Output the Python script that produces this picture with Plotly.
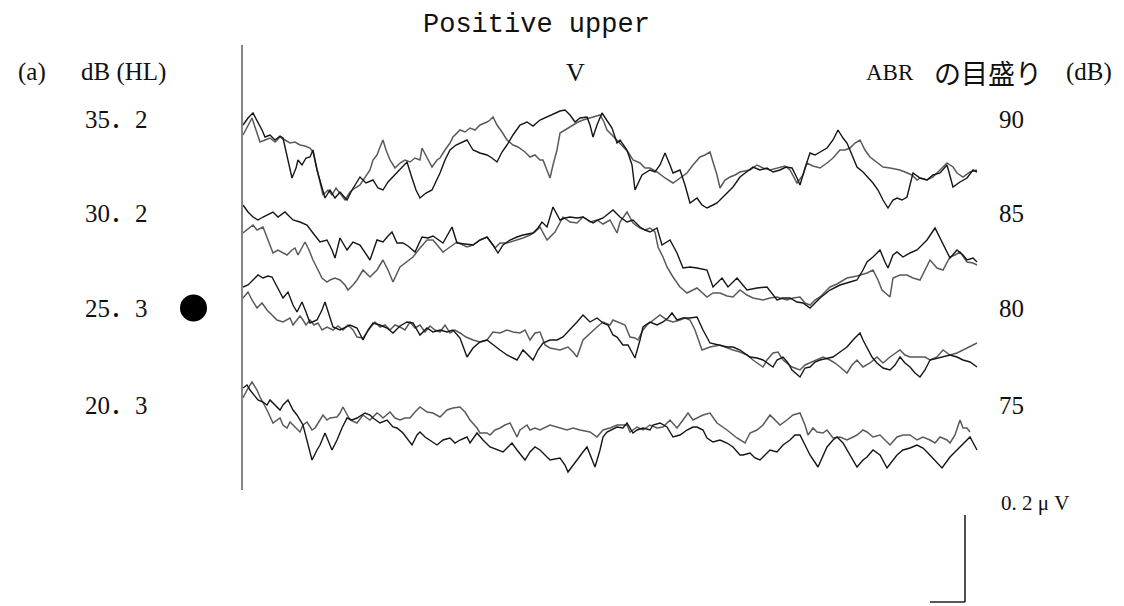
import plotly.graph_objects as go

# ---------------- data ----------------
# stimulus levels (dB HL) and ABR scale (dB)
levels_hl = ["35．2", "30．2", "25．3", "20．3"]
abr_scale = ["90", "85", "80", "75"]
threshold_level = "25．3"

# time in samples, amplitude in arbitrary units (scale bar 0.2 µV = 87 a.u.)
t_352_a = [0,5,10,15,19,22,27,32,37,40,44,49,53,55,59,63,67,70,74,78,82,87,92,97,104,109,117,123,130,135,140,145,150,157,164,169,173,177,183,189,197,202,207,213,219,224,227,230,237,244,249,254,259,264,270,277,284,290,297,304,312,317,322,327,332,337,344,347,350,354,359,364,369,374,377,384,389,392,399,407,412,417,422,427,430,437,442,447,454,459,464,470,474,479,484,490,497,504,510,517,524,530,537,543,549,554,557,562,567,572,577,584,590,595,600,604,609,614,620,625,630,635,640,645,650,654,659,664,670,677,684,690,697,704,710,717,724,730,734]
v_352_a = [25,32,37,28,20,13,15,10,14,12,-5,-28,-18,-10,-15,-8,-7,0,-20,-35,-48,-40,-48,-42,-50,-40,-27,-33,-30,-38,-40,-32,-27,-20,-12,-28,-40,-48,-43,-40,-23,-10,0,5,8,10,5,0,-3,-5,-8,-12,-2,5,15,25,28,24,30,33,37,39,40,35,28,32,33,25,13,25,37,30,22,7,10,0,-15,-40,-25,-20,-22,-15,-3,-15,-23,-20,-35,-53,-48,-55,-58,-55,-53,-48,-43,-37,-27,-22,-17,-20,-18,-22,-20,-17,-18,-28,-35,-18,-3,-5,-2,2,10,20,12,7,-5,-17,-22,-27,-33,-40,-50,-58,-50,-48,-50,-47,-23,-28,-30,-25,-23,-15,-37,-32,-28,-20,-22]
t_352_b = [0,5,9,13,17,22,27,32,37,42,47,52,57,62,67,70,73,77,80,85,89,93,97,102,107,112,117,122,127,130,134,137,140,143,147,152,157,162,167,172,177,179,183,189,194,197,202,207,210,214,217,222,227,232,237,244,247,250,254,259,264,270,275,282,287,292,297,300,304,307,310,314,317,322,325,330,335,340,347,352,357,361,364,369,374,379,385,390,397,402,407,414,422,430,437,444,450,457,462,467,470,474,477,482,487,492,497,507,514,520,527,534,542,547,554,560,564,570,577,584,590,597,602,607,612,617,622,627,634,640,647,657,662,669,674,677,684,690,697,704,710,714,720,727,734]
v_352_b = [15,25,32,20,8,10,12,8,13,10,7,8,5,4,2,-2,-15,-35,-45,-40,-45,-38,-43,-50,-42,-38,-35,-28,-20,-10,-5,3,10,0,-10,-18,-13,-10,-12,-8,-10,2,-5,-17,-10,-8,0,7,13,17,20,18,22,20,25,28,30,33,25,18,10,5,3,-2,-7,-5,-10,-10,-20,-28,-15,0,17,20,22,25,28,30,32,33,35,28,20,15,10,5,-2,-10,-13,-18,-18,-22,-28,-33,-28,-23,-15,-7,-5,-2,-12,-25,-38,-30,-27,-25,-22,-20,-15,-18,-20,-18,-16,-20,-33,-25,-13,-16,-18,-13,-8,0,0,2,7,10,0,-7,-12,-17,-18,-20,-22,-25,-30,-28,-30,-27,-20,-13,-17,-23,-27,-22,-20]

t_302_a = [0,5,10,15,20,24,30,35,39,42,46,50,57,64,70,77,84,89,92,97,104,110,117,122,127,134,140,145,149,154,160,165,172,179,185,190,200,209,214,222,230,237,244,250,255,260,267,274,280,290,295,299,304,310,317,322,327,334,340,345,350,355,360,365,370,377,384,390,397,402,407,414,419,427,434,440,447,454,464,470,479,485,494,504,514,524,534,540,547,554,560,567,572,577,587,597,607,614,620,624,630,637,642,645,650,654,660,667,674,677,684,692,697,700,707,714,720,724,730,734]
v_302_a = [45,38,33,30,33,35,38,33,36,38,34,30,28,25,17,8,10,0,-8,12,0,8,5,-2,-10,10,8,14,18,7,7,4,-2,13,12,14,7,23,7,6,5,10,13,5,-3,5,10,13,15,17,22,28,23,43,30,32,33,32,33,30,27,30,32,36,40,33,28,30,23,20,18,22,5,10,-3,-18,-17,-18,-20,-37,-28,-37,-28,-40,-38,-37,-50,-48,-48,-52,-53,-58,-53,-48,-40,-35,-32,-30,-20,-12,-7,0,-12,-18,-5,-2,-7,-3,0,3,10,22,12,7,-8,0,-5,-10,-8,-12]
t_302_b = [0,7,10,14,20,25,30,35,40,44,49,52,55,59,62,66,70,75,79,84,87,92,97,102,105,110,114,120,127,134,140,145,150,157,164,170,177,184,190,194,200,207,214,224,230,237,244,252,257,264,274,280,287,292,297,304,312,320,327,334,340,347,354,360,367,374,377,384,390,397,402,407,412,415,420,424,430,437,444,450,454,464,470,477,484,490,497,504,510,520,527,534,544,550,557,562,567,572,577,582,587,594,604,614,624,630,635,639,647,650,657,664,670,677,682,687,694,700,707,712,717,724,730,734]
v_302_b = [17,22,25,20,23,10,-3,0,-3,-5,0,2,-5,3,8,0,-10,-20,-28,-32,-30,-28,-30,-35,-40,-35,-30,-20,-27,-20,-10,-20,-32,-17,-12,-7,2,10,10,5,-2,3,8,3,5,10,13,2,7,7,10,12,15,18,23,10,18,33,28,27,33,28,30,26,30,17,28,38,27,22,20,22,18,3,-7,-17,-27,-37,-43,-40,-38,-47,-43,-43,-46,-47,-40,-45,-48,-50,-48,-47,-50,-48,-47,-53,-55,-50,-47,-42,-37,-34,-28,-26,-23,-20,-30,-40,-47,-28,-25,-25,-28,-30,-20,-10,-18,-20,-7,-5,-2,-12,-13,-15]

t_253_a = [0,5,10,15,20,25,29,34,40,45,50,54,59,63,67,74,79,82,86,90,97,107,114,120,125,130,137,144,150,157,164,170,177,184,190,197,204,210,217,224,230,237,244,250,257,264,274,280,285,290,295,300,307,314,320,327,334,340,347,354,360,365,370,374,380,385,392,397,400,407,414,420,425,429,434,440,447,454,460,467,477,484,490,497,507,514,520,524,530,534,540,545,549,557,562,567,572,577,584,590,597,604,610,617,620,624,629,634,640,647,652,657,662,667,672,677,682,687,694,700,707,714,720,727,734]
v_253_a = [43,45,50,55,52,54,53,43,32,38,25,18,28,18,7,10,20,28,15,3,0,5,2,-10,0,7,5,2,-3,4,8,7,-5,2,-2,0,-2,0,-8,-27,-18,-12,-10,-15,-20,-25,-30,-20,-25,-30,-20,-13,-10,-10,-7,0,8,15,8,12,7,5,-5,-7,-15,-15,-28,-10,3,8,5,8,12,17,10,12,12,13,0,-13,-15,-17,-17,-20,-27,-28,-30,-33,-37,-30,-27,-33,-40,-47,-38,-37,-32,-30,-28,-27,-22,-17,-10,-3,-10,-17,-27,-33,-38,-40,-35,-27,-33,-37,-43,-47,-40,-30,-28,-27,-25,-27,-30,-32,-37]
t_253_b = [0,5,9,14,19,24,29,34,40,47,50,54,57,60,63,67,71,75,79,84,90,95,100,105,110,114,120,127,132,137,142,147,152,157,162,167,172,177,182,187,192,197,202,207,212,217,223,230,237,244,250,257,264,270,277,282,287,292,297,302,307,317,325,330,334,340,347,354,360,367,370,377,382,387,392,395,400,404,410,417,424,430,437,442,447,452,459,467,477,484,490,497,504,510,514,520,524,530,535,540,549,557,562,567,574,580,587,592,597,604,609,614,620,627,634,640,647,657,662,667,674,682,687,694,700,707,714,720,727,734]
v_253_b = [32,38,30,22,27,20,15,10,8,12,5,10,14,10,5,10,5,7,0,3,0,4,0,5,0,-7,-8,2,8,3,5,0,5,3,0,8,2,5,-2,4,0,-2,5,-3,0,-3,-7,-10,-12,-10,-2,-3,0,-2,-3,0,-10,-3,-2,-15,-18,-20,-17,-22,-27,-10,-3,3,8,5,10,7,5,-7,-8,-10,0,5,10,15,10,8,10,12,10,0,-20,-17,-15,-18,-20,-22,-25,-30,-33,-37,-30,-23,-22,-30,-37,-40,-35,-33,-30,-27,-30,-33,-37,-43,-35,-30,-37,-33,-27,-33,-27,-20,-25,-27,-27,-27,-30,-27,-20,-25,-23,-20,-17,-13]

t_203_a = [0,4,7,12,15,20,24,27,32,37,40,45,50,54,60,64,69,74,77,82,85,89,94,99,104,109,114,119,122,127,130,137,144,150,154,160,165,169,174,177,182,187,194,200,207,212,217,224,227,234,240,247,254,260,264,269,274,282,287,292,297,302,307,317,322,325,330,334,340,344,348,352,357,360,364,374,380,384,390,394,400,407,410,417,424,430,437,444,450,454,460,464,470,477,484,490,497,500,507,512,517,522,527,534,540,547,552,557,562,567,575,580,584,590,594,600,607,614,620,624,630,637,644,650,654,660,667,674,680,684,690,694,699,707,714,720,724,727,734]
v_203_a = [42,45,40,33,30,28,25,30,25,20,25,30,20,15,5,-10,-30,-20,-15,-3,-10,-20,-10,2,12,10,12,15,17,15,12,7,10,3,2,-3,-10,-15,-5,-2,-7,-10,-15,-10,-8,-13,-10,-7,-13,-3,-10,-17,-20,-22,-18,-13,-20,-30,-22,-17,-20,-25,-30,-28,-35,-42,-35,-30,-22,-17,-28,-37,-20,-7,-2,3,2,7,-3,0,2,0,5,7,3,-7,-5,0,3,3,0,-8,-12,-10,-13,-17,-25,-25,-23,-28,-30,-25,-20,-22,-15,-10,-5,-5,-15,-25,-37,-25,-17,-10,-7,-13,-25,-37,-30,-27,-20,-25,-38,-30,-25,-20,-18,-15,-18,-22,-28,-32,-38,-27,-20,-13,-10,-7,-20]
t_203_b = [0,4,9,14,17,24,30,34,37,40,44,47,50,57,60,64,69,72,77,80,84,87,94,97,100,104,107,114,120,124,127,134,137,140,147,152,157,162,167,172,177,184,190,197,204,210,217,222,227,234,237,244,247,252,257,262,267,274,277,284,287,292,297,307,317,324,330,337,347,354,360,367,374,384,387,394,400,407,414,420,427,434,440,445,450,454,460,467,474,484,494,502,507,514,520,527,532,537,544,550,557,562,565,570,574,580,584,590,597,604,610,614,620,624,630,637,647,654,660,667,674,680,687,692,697,704,707,712,717,720,724,727]
v_203_b = [32,40,48,40,33,20,7,10,12,5,2,8,5,-2,5,8,0,2,10,15,10,12,13,17,23,15,10,7,15,12,10,17,15,12,18,12,10,12,12,18,23,18,17,13,20,22,23,18,10,2,-3,-3,-5,0,2,5,7,-7,0,5,0,2,0,5,2,0,2,0,-2,-7,0,2,5,5,-2,3,0,5,2,3,10,2,10,17,10,12,15,17,7,0,-8,-13,-3,0,5,15,10,5,10,15,17,5,-5,2,-2,-3,0,-8,-7,-10,-7,-5,0,-2,-7,-5,-15,-7,-5,-5,-10,-7,-10,-13,-7,-10,-13,-5,10,2,2,-2]

# ---------------- layout constants (pixels) ----------------
W, H = 1124, 606
X0_PX, X1_PX = 243, 978           # sweep start/end
T_RANGE = [0, 735]                # samples shown
BASE_PX = [150, 250, 330, 430]    # vertical offset of each pair
LABEL_Y = [119, 214, 308, 405]
DARK, GRAY = "#151515", "#5a5a5a"

series = [
    (t_352_a, v_352_a, t_352_b, v_352_b),
    (t_302_a, v_302_a, t_302_b, v_302_b),
    (t_253_a, v_253_a, t_253_b, v_253_b),
    (t_203_a, v_203_a, t_203_b, v_203_b),
]

fig = go.Figure()
for (ta, va, tb, vb), base in zip(series, BASE_PX):
    fig.add_trace(go.Scatter(x=tb, y=[v - base for v in vb], mode="lines",
                             line=dict(color=GRAY, width=1.5), hoverinfo="skip"))
    fig.add_trace(go.Scatter(x=ta, y=[v - base for v in va], mode="lines",
                             line=dict(color=DARK, width=1.4), hoverinfo="skip"))

def px(x):
    return x / W

def py(y):
    return 1 - y / H

SERIF = "Liberation Serif, Noto Sans CJK JP"
ann = []

def text(s, x, y, size, family=SERIF, anchor="center", color="#111"):
    ann.append(dict(text=s, x=px(x), y=py(y), xref="paper", yref="paper",
                    showarrow=False, xanchor=anchor, yanchor="middle",
                    font=dict(family=family, size=size, color=color)))

text("Positive upper", 536, 25, 27, family="Liberation Mono")
text("(a)", 32, 72, 25)
text("dB (HL)", 123, 72, 25)
text("V", 575, 72, 26)
text("ABR", 890, 72, 23)
text("の目盛り", 988, 72, 27, family="Noto Sans CJK JP")
text("(dB)", 1089, 72, 25)
for lab, y in zip(levels_hl, LABEL_Y):
    text(lab, 83, y, 25, anchor="left")
for lab, y in zip(abr_scale, LABEL_Y):
    text(lab, 1011, y, 25)
text("0. 2 μ V", 1035, 503, 21)

shapes = [
    dict(type="line", xref="paper", yref="paper", x0=px(242), x1=px(242),
         y0=py(45), y1=py(490), line=dict(color="#333", width=1.2)),
    dict(type="line", xref="paper", yref="paper", x0=px(965), x1=px(965),
         y0=py(515), y1=py(602), line=dict(color="#222", width=1.6)),
    dict(type="line", xref="paper", yref="paper", x0=px(930), x1=px(965),
         y0=py(602), y1=py(602), line=dict(color="#222", width=1.6)),
]
# threshold marker next to the threshold level
ti = levels_hl.index(threshold_level)
shapes.append(dict(type="circle", xref="paper", yref="paper",
                   x0=px(180), x1=px(207), y0=py(LABEL_Y[ti] - 13.5), y1=py(LABEL_Y[ti] + 13.5),
                   fillcolor="black", line=dict(color="black", width=0)))

fig.update_layout(
    width=W, height=H, margin=dict(l=0, r=0, t=0, b=0),
    paper_bgcolor="white", plot_bgcolor="white", showlegend=False,
    xaxis=dict(visible=False, range=T_RANGE, domain=[px(X0_PX), px(X1_PX)], fixedrange=True),
    yaxis=dict(visible=False, range=[-H, 0], domain=[0, 1], fixedrange=True),
    annotations=ann, shapes=shapes,
)
fig.write_html("out.html")
